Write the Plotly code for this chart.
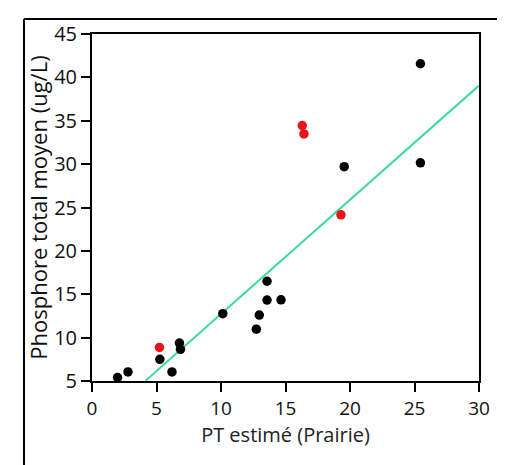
import plotly.graph_objects as go

# Data
black_x = [1.98, 2.79, 5.26, 6.2, 6.78, 6.86, 10.14, 12.74, 12.97, 13.57, 13.57, 14.65, 19.55, 25.46, 25.46]
black_y = [5.4, 6.04, 7.5, 6.04, 9.37, 8.65, 12.76, 10.97, 12.6, 16.5, 14.33, 14.36, 29.7, 41.57, 30.15]
red_x = [5.23, 16.3, 16.43, 19.3]
red_y = [8.87, 34.45, 33.48, 24.15]
fit_slope = 1.316
fit_intercept = -0.43
fit_x = [4.13, 30.0]
fit_y = [fit_slope * v + fit_intercept for v in fit_x]

x_ticks = [0, 5, 10, 15, 20, 25, 30]
y_ticks = [5, 10, 15, 20, 25, 30, 35, 40, 45]

fig = go.Figure()
fig.add_trace(go.Scatter(x=fit_x, y=fit_y, mode="lines",
                         line=dict(color="#3dd9a0", width=2), showlegend=False))
fig.add_trace(go.Scatter(x=black_x, y=black_y, mode="markers",
                         marker=dict(color="black", size=9.5), showlegend=False))
fig.add_trace(go.Scatter(x=red_x, y=red_y, mode="markers",
                         marker=dict(color="#e8141c", size=9.5), showlegend=False))

font = "Open Sans, DejaVu Sans, sans-serif"
# plot area: page x 92..479, y 24..381 (page has 8px body margin)
W, H = 497, 457
L, T = 84, 16
R, B = W - 471, H - 373
fig.update_layout(
    width=W, height=H,
    margin=dict(l=L, r=R, t=T, b=B),
    paper_bgcolor="white", plot_bgcolor="white",
    font=dict(family=font, color="#111"),
    xaxis=dict(range=[0, 30], tickvals=x_ticks, ticks="outside", ticklen=9,
               tickwidth=1.5, tickcolor="black", showline=True, linecolor="black",
               linewidth=2, mirror=True, showgrid=False, zeroline=False,
               tickfont=dict(size=19, color="#111"),
               title=dict(text="PT estimé (Prairie)", font=dict(size=20, color="#222"), standoff=4)),
    yaxis=dict(range=[5, 45], tickvals=y_ticks, ticks="outside", ticklen=9,
               tickwidth=1.5, tickcolor="black", showline=True, linecolor="black",
               linewidth=2, mirror=True, showgrid=False, zeroline=False,
               tickfont=dict(size=20, color="#111"),
               title=dict(text="Phosphore total moyen (ug/L)", font=dict(size=22, color="#111"), standoff=0)),
)

# outer frame (left, top, right)
pw, ph = W - L - R, H - T - B
fx0 = (16 - L) / pw
fx1 = (495 - L) / pw
fy1 = (ph + B - 0.5 - B) / ph
fy1 = (H - B - 0.5) / ph
frame = dict(type="line", xref="paper", yref="paper", line=dict(color="black", width=2))
fig.add_shape(**frame, x0=fx0, y0=fy1, x1=fx1, y1=fy1)
fig.add_shape(**frame, x0=fx0, y0=fy1, x1=fx0, y1=-0.3)
fig.add_shape(**frame, x0=fx1, y0=fy1, x1=fx1, y1=-0.3)

fig.write_html("out.html")
